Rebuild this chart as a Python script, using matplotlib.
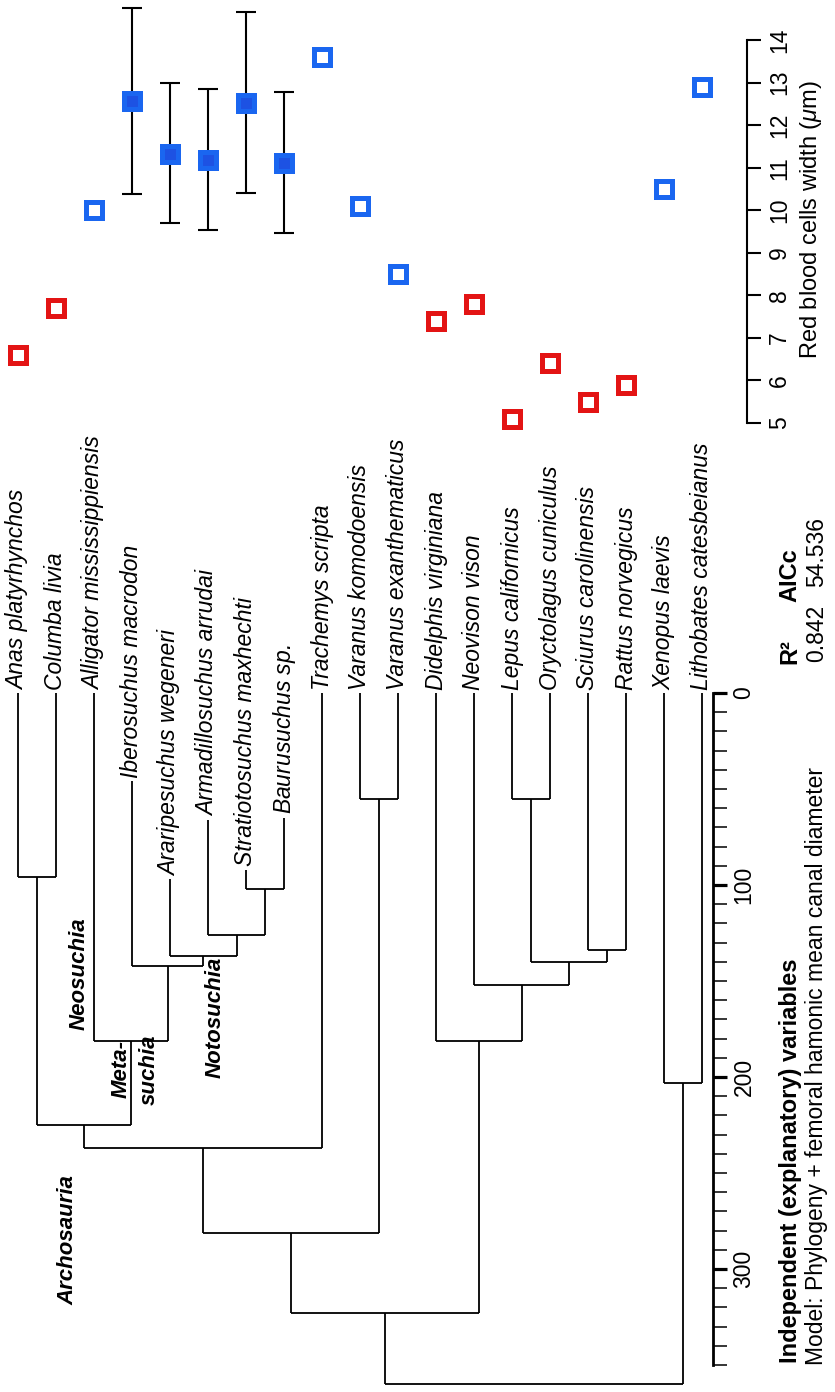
import numpy as np
import matplotlib.pyplot as plt

plt.rcParams['font.family'] = ['Liberation Sans', 'DejaVu Sans']
plt.rcParams['mathtext.fontset'] = 'custom'
plt.rcParams['mathtext.rm'] = 'Liberation Sans'
plt.rcParams['mathtext.it'] = 'Liberation Sans:italic'
plt.rcParams['mathtext.bf'] = 'Liberation Sans:bold'

# --- data ---------------------------------------------------------------
taxa = ["Anas platyrhynchos", "Columba livia", "Alligator mississippiensis",
        "Iberosuchus macrodon", "Araripesuchus wegeneri", "Armadillosuchus arrudai",
        "Stratiotosuchus maxhechti", "Baurusuchus sp.", "Trachemys scripta",
        "Varanus komodoensis", "Varanus exanthematicus", "Didelphis virginiana",
        "Neovison vison", "Lepus californicus", "Oryctolagus cuniculus",
        "Sciurus carolinensis", "Rattus norvegicus", "Xenopus laevis",
        "Lithobates catesbeianus"]
tip_age = [0, 0, 0, 46, 97, 66, 92, 65, 0, 0, 0, 0, 0, 0, 0, 0, 0, 0, 0]

# internal nodes (children listed before parents), ages in Ma
node_names = ["Aves", "Baurusuchidae", "n_arm", "n_arar", "Notosuchia",
              "Metasuchia", "Archosauria", "Archelosauria", "Varanidae",
              "Sauropsida", "Lagomorpha", "Rodentia", "Glires",
              "Boreoeutheria", "Theria", "Amniota", "Anura", "Tetrapoda"]
node_children = [("Anas platyrhynchos", "Columba livia"),
                 ("Stratiotosuchus maxhechti", "Baurusuchus sp."),
                 ("Armadillosuchus arrudai", "Baurusuchidae"),
                 ("Araripesuchus wegeneri", "n_arm"),
                 ("Iberosuchus macrodon", "n_arar"),
                 ("Alligator mississippiensis", "Notosuchia"),
                 ("Aves", "Metasuchia"),
                 ("Archosauria", "Trachemys scripta"),
                 ("Varanus komodoensis", "Varanus exanthematicus"),
                 ("Archelosauria", "Varanidae"),
                 ("Lepus californicus", "Oryctolagus cuniculus"),
                 ("Sciurus carolinensis", "Rattus norvegicus"),
                 ("Lagomorpha", "Rodentia"),
                 ("Neovison vison", "Glires"),
                 ("Didelphis virginiana", "Boreoeutheria"),
                 ("Sauropsida", "Theria"),
                 ("Xenopus laevis", "Lithobates catesbeianus"),
                 ("Amniota", "Anura")]
node_age = [96, 102, 126, 137, 142, 181, 225, 237, 55, 281, 55, 134, 140,
            152, 181, 323, 203, 360]

# red blood cell width (um); fossils have estimated values with intervals
rbc = [6.6, 7.7, 10.0, 12.57, 11.33, 11.19, 12.52, 11.12, 13.6, 10.09, 8.5,
       7.4, 7.8, 5.1, 6.4, 5.5, 5.9, 10.5, 12.9]
rbc_low = [np.nan, np.nan, np.nan, 10.38, 9.70, 9.53, 10.40, 9.47] + [np.nan] * 11
rbc_high = [np.nan, np.nan, np.nan, 14.75, 12.98, 12.85, 14.65, 12.77] + [np.nan] * 11
endotherm = [1, 1, 0, 0, 0, 0, 0, 0, 0, 0, 0, 1, 1, 1, 1, 1, 1, 0, 0]

clade_labels = ["Archosauria", "Neosuchia", "Meta-", "suchia", "Notosuchia"]

RED = '#e31414'
BLUE = '#1a66f0'

# --- figure ---------------------------------------------------------------
W, H = 835, 1392
fig = plt.figure(figsize=(W / 100, H / 100), dpi=100)


def box(x0, y0, x1, y1):
    return [x0 / W, 1 - y1 / H, (x1 - x0) / W, (y1 - y0) / H]


X0, DX = 18, 38.0           # pixel of first tip, spacing
T0, DT = 693, 1.92          # pixel of age 0, px per Ma
V5, DV = 423, 42.56         # pixel of rbc 5, px per um

xlim = (-X0 / DX, (W - X0) / DX)

# tree
ax = fig.add_axes(box(0, T0, W, H))
ax.set_xlim(*xlim)
ax.set_ylim((H - T0) / DT, 0)
ax.patch.set_visible(False)

pos = {t: (i, a) for i, (t, a) in enumerate(zip(taxa, tip_age))}
for name, (c1, c2), age in zip(node_names, node_children, node_age):
    x1, a1 = pos[c1]
    x2, a2 = pos[c2]
    ax.vlines([x1, x2], [a1, a2], [age, age], color='k', lw=1.3)
    ax.hlines(age, x1, x2, color='k', lw=1.3)
    pos[name] = ((x1 + x2) / 2, age)

for i, (t, a) in enumerate(zip(taxa, tip_age)):
    if t.endswith(' sp.'):
        label = r'$\mathit{' + t[:-4] + r'}$ sp.'
    else:
        label = t
    ax.annotate(label, (i, a), xytext=(0, 2.5), textcoords='offset points',
                rotation=90, ha='center', va='bottom', fontsize=16.5,
                style='italic')

# clade names
clade_x = [1.32, 1.6, 2.72, 3.45, 5.18]
clade_y = [285, 146, 196, 196, 169]
for lab, cx, cy in zip(clade_labels, clade_x, clade_y):
    ax.text(cx, cy, lab, rotation=90, ha='center', va='center', fontsize=16,
            fontweight='bold', style='italic')

# time axis
for s in ['left', 'top', 'bottom']:
    ax.spines[s].set_visible(False)
ax.spines['right'].set_position(('data', (713 - X0) / DX))
ax.spines['right'].set_bounds(0, 350)
ax.spines['right'].set_linewidth(2)
ax.xaxis.set_visible(False)
ax.yaxis.tick_right()
ax.set_yticks([0, 100, 200, 300])
ax.set_yticks(np.arange(0, 351, 10), minor=True)
ax.tick_params(axis='y', which='major', length=10, width=2.3, pad=4,
               labelsize=16.5, labelrotation=90)
ax.tick_params(axis='y', which='minor', length=10, width=1.1)
for lab in ax.get_yticklabels():
    lab.set_va('center')

# rbc panel
bx = fig.add_axes(box(0, 0, W, 440))
bx.set_xlim(*xlim)
bx.set_ylim(5 - (440 - V5) / DV, 5 + V5 / DV)
bx.patch.set_visible(False)
for s in ['left', 'top', 'bottom']:
    bx.spines[s].set_visible(False)
bx.spines['right'].set_position(('data', (747 - X0) / DX))
bx.spines['right'].set_bounds(5, 14)
bx.spines['right'].set_linewidth(1.5)
bx.xaxis.set_visible(False)
bx.yaxis.tick_right()
bx.yaxis.set_label_position('right')
bx.set_yticks(range(5, 15))
bx.tick_params(axis='y', length=10, width=1.5, pad=5, labelsize=16.5,
               labelrotation=90)
for lab in bx.get_yticklabels():
    lab.set_va('center')
bx.set_ylabel(r'Red blood cells width ($\mu$m)', fontsize=17, rotation=90,
              labelpad=5)

idx = np.arange(len(taxa))
rbc = np.array(rbc)
lo = np.array(rbc_low)
hi = np.array(rbc_high)
fossil = ~np.isnan(lo)
colors = np.where(np.array(endotherm) == 1, RED, BLUE)

bx.errorbar(idx[fossil], rbc[fossil], yerr=[rbc[fossil] - lo[fossil], hi[fossil] - rbc[fossil]],
            fmt='none', ecolor='k', elinewidth=1.5, capsize=7.5, capthick=1.5,
            clip_on=False, zorder=2)
for i in idx:
    if fossil[i]:
        bx.plot(i, rbc[i], 's', ms=12, mfc='#1d52e3', mec=colors[i], mew=3.6,
                clip_on=False, zorder=3)
    else:
        bx.plot(i, rbc[i], 's', ms=12, mfc='white', mec=colors[i], mew=3.6,
                clip_on=False, zorder=3)

# model text
def fx(x, y):
    return x / W, 1 - y / H

fig.text(*fx(790, 1363), 'Independent (explanatory) variables', rotation=90,
         ha='center', va='bottom', fontsize=17, fontweight='bold')
fig.text(*fx(817, 1365), 'Model: Phylogeny + femoral hamonic mean canal diameter',
         rotation=90, ha='center', va='bottom', fontsize=16.5)
fig.text(*fx(790, 652), 'R²', rotation=90, ha='center', va='center',
         fontsize=17, fontweight='bold')
fig.text(*fx(790, 575), 'AICc', rotation=90, ha='center', va='center',
         fontsize=17, fontweight='bold')
fig.text(*fx(817, 633), '0.842', rotation=90, ha='center', va='center',
         fontsize=16.5)
fig.text(*fx(817, 552), '54.536', rotation=90, ha='center', va='center',
         fontsize=16.5)

fig.savefig('out.png', dpi=100)
